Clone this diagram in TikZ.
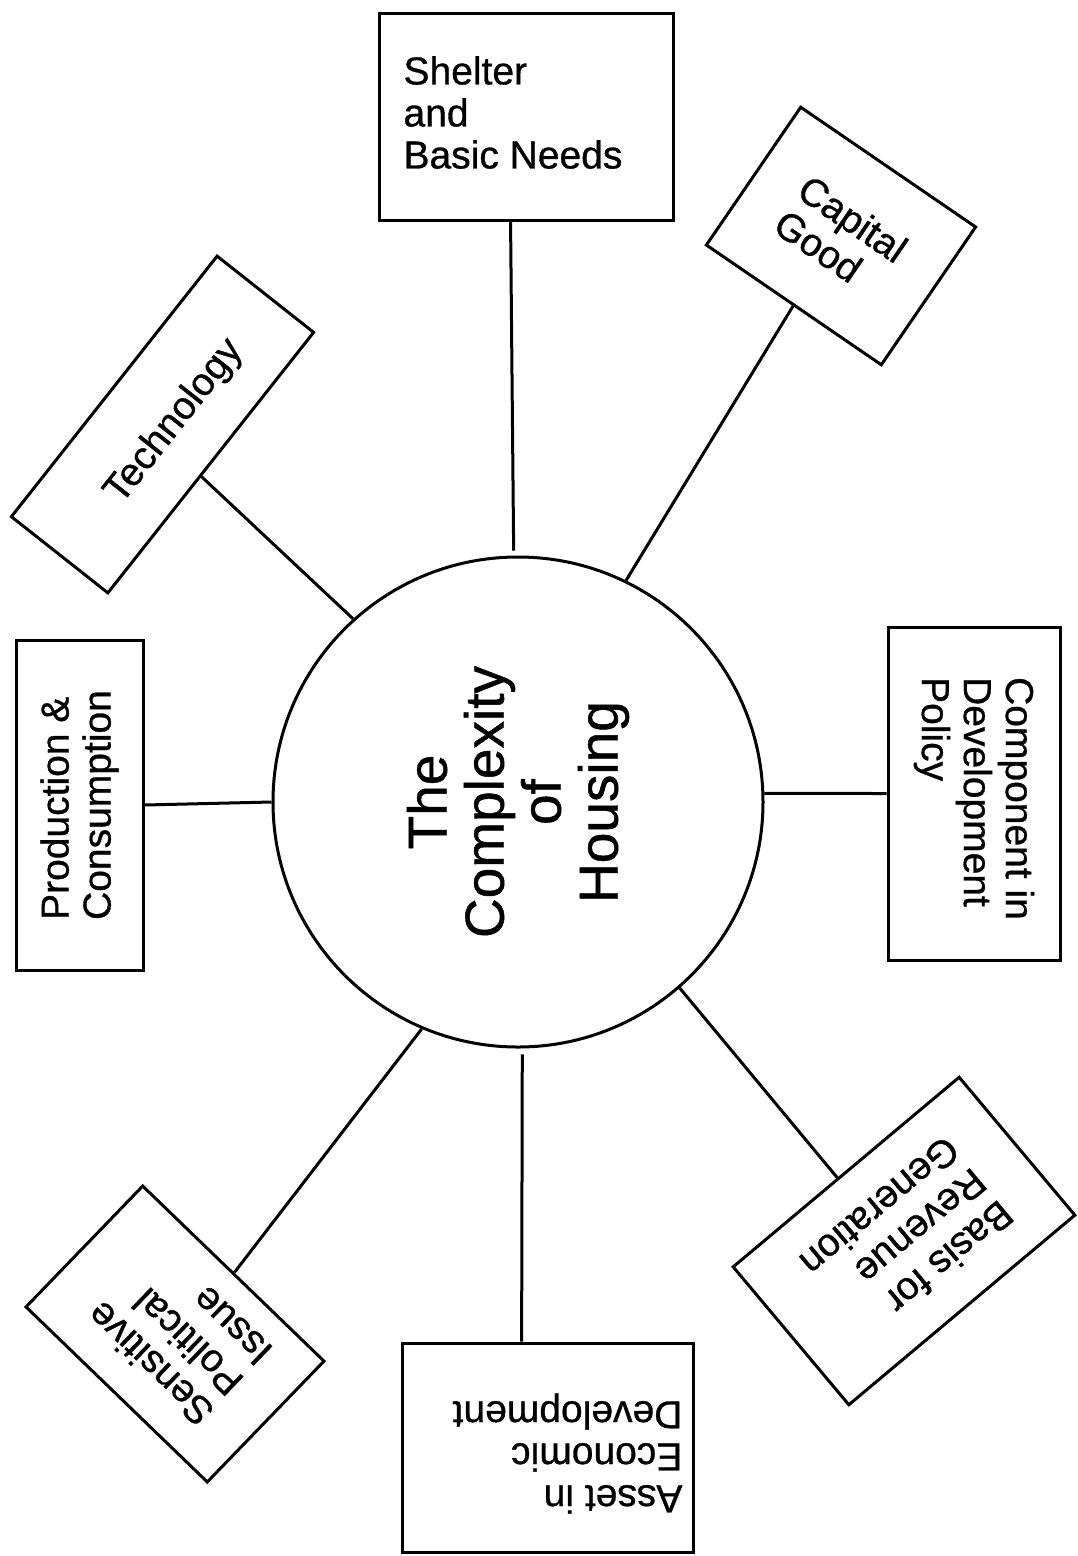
\documentclass[tikz,border=0pt]{standalone}
\usepackage{fontspec}
\setmainfont{Liberation Sans}[FakeBold=0.8]
\usetikzlibrary{calc}
\begin{document}
\begin{tikzpicture}[x=1pt,y=-1pt,
  box/.style={draw, line width=3pt, inner sep=0pt},
  boxtext/.style={inner sep=0pt, align=left, font=\fontsize{39}{42}\selectfont},
  link/.style={line width=3pt}]
\useasboundingbox (0,0) rectangle (1078,1556);
% centre
\node[draw, circle, line width=3pt, minimum size=490pt, inner sep=0pt] (circ) at (518,802) {};
\node[rotate=90, align=center, inner sep=0pt, font=\fontsize{55}{57}\selectfont] (title) at (circ.center) {The\\Complexity\\of\\Housing};
% boxes
\node[box, minimum width=294pt, minimum height=207pt] (shel) at (526,116.5) {};
\node[boxtext] (shel-t) at ($(shel.center)+(-13,-4)$) {Shelter\\and\\Basic Needs};
\node[box, rotate=-34.4, minimum width=212pt, minimum height=167pt] (cap) at (841,236) {};
\node[boxtext, rotate=-34.4] (cap-t) at (cap.center) {Capital\\Good};
\node[box, rotate=-90, minimum width=333pt, minimum height=172pt] (comp) at (974,793.5) {};
\node[boxtext, rotate=-90] (comp-t) at ($(comp.center)+(0,5)$) {Component in\\Development\\Policy};
\node[box, rotate=-140, minimum width=295pt, minimum height=180pt] (basis) at (904,1241) {};
\node[boxtext, rotate=-140] (basis-t) at ($(basis.center)+(3,-2)$) {Basis for\\Revenue\\Generation};
\node[box, rotate=180, minimum width=291pt, minimum height=209pt] (asset) at (547.5,1447.5) {};
\node[boxtext, rotate=180] (asset-t) at ($(asset.center)+(20,6)$) {Asset in\\Economic\\Development};
\node[box, rotate=136, minimum width=252pt, minimum height=168pt] (sens) at (175,1334) {};
\node[boxtext, rotate=136] (sens-t) at ($(sens.center)+(4,0)$) {Sensitive\\Political\\Issue};
\node[box, rotate=90, minimum width=330pt, minimum height=127pt] (prod) at (79.5,805) {};
\node[boxtext, rotate=90] (prod-t) at (prod.center) {Production \&\\Consumption};
\node[box, rotate=51.7, minimum width=332pt, minimum height=123pt] (tech) at (162.5,424.5) {};
\node[boxtext, rotate=51.7] (tech-t) at ($(tech.center)+(12,-3)$) {Technology};
% connectors
\draw[link, shorten >=5pt] ($(shel.south west)!0.448!(shel.south east)$) -- (circ.91.7);
\draw[link] (cap.south) -- (circ.64.5);
\draw[link] (comp.south) -- (circ.2);
\draw[link] ($(basis.south west)!0.535!(basis.south east)$) -- (circ.-49.3);
\draw[link, shorten >=6pt] ($(asset.south west)!0.588!(asset.south east)$) -- (circ.-89);
\draw[link] (sens.south) -- (circ.-113.8);
\draw[link] (prod.south) -- (circ.180.7);
\draw[link] ($(tech.south west)!0.45!(tech.south east)$) -- (circ.132.9);
\end{tikzpicture}
\end{document}
